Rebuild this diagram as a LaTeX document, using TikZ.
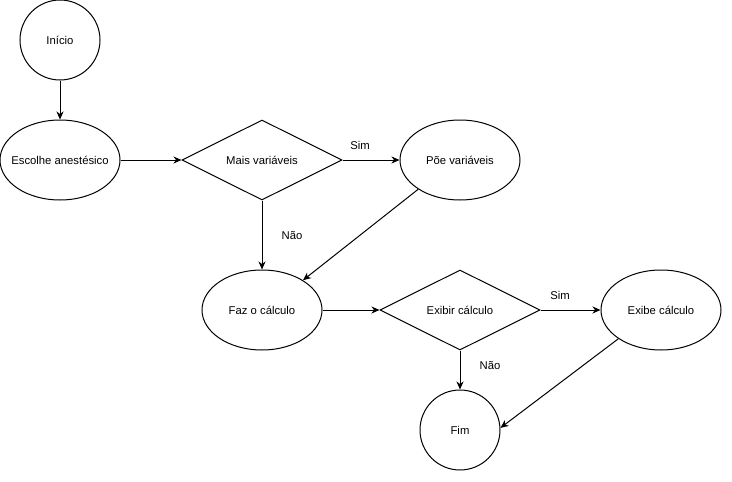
\documentclass[tikz,border=0pt]{standalone}
\usepackage{fontspec}
\setmainfont{Liberation Sans}
\usetikzlibrary{shapes.geometric,arrows.meta}
\begin{document}
\begin{tikzpicture}[x=1pt,y=-1pt,
  every node/.style={font=\fontsize{11.3}{13}\selectfont},
  circ/.style={draw,circle,minimum size=80pt,inner sep=0pt,line width=1pt,fill=white},
  ell/.style={draw,ellipse,minimum width=120pt,minimum height=80pt,inner ysep=0pt,inner xsep=-12pt,line width=1pt,fill=white},
  dia/.style={draw,diamond,aspect=2,minimum width=160pt,minimum height=80pt,inner sep=0pt,line width=1pt,fill=white},
  conn/.style={line width=1pt,-{Stealth[length=8pt,width=7pt,inset=2.5pt]}},
  lbl/.style={inner sep=0pt}]
\useasboundingbox (0,0) rectangle (732,482);
\node[circ] (ini) at (60,40) {Início};
\node[ell] (esc) at (60,160) {Escolhe anestésico};
\node[dia] (mais) at (262,160) {Mais variáveis};
\node[ell] (poe) at (460,160) {Põe variáveis};
\node[ell] (faz) at (262,310) {Faz o cálculo};
\node[dia] (exibir) at (460,310) {Exibir cálculo};
\node[ell] (exibe) at (661,310) {Exibe cálculo};
\node[circ] (fim) at (460,430) {Fim};
\draw[conn] (ini) -- (esc);
\draw[conn] (esc) -- (mais);
\draw[conn] (mais) -- (poe);
\draw[conn] (mais) -- (faz);
\draw[conn] (poe.215) -- (faz.36);
\draw[conn] (faz) -- (exibir);
\draw[conn] (exibir) -- (exibe);
\draw[conn] (exibir) -- (fim);
\draw[conn] (exibe.214) -- (fim.3);
\node[lbl] (l1) at (360,145) {Sim};
\node[lbl] (l2) at (292,235) {Não};
\node[lbl] (l3) at (560,295) {Sim};
\node[lbl] (l4) at (490,365) {Não};
\end{tikzpicture}
\end{document}
